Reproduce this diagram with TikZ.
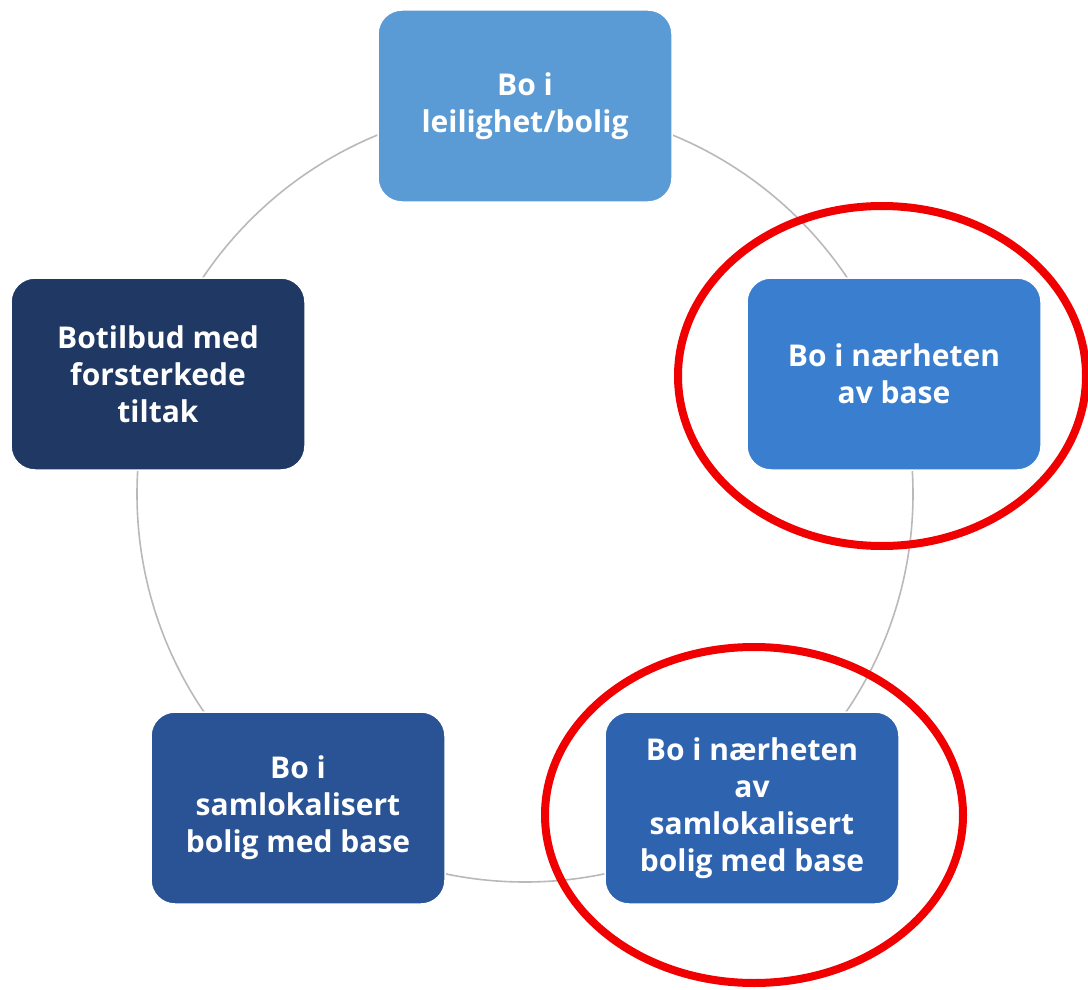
\documentclass[tikz,border=0pt]{standalone}
\usepackage{fontspec}
\setmainfont{Open Sans}
\usetikzlibrary{positioning,calc}

\definecolor{topblue}{HTML}{5B9BD5}
\definecolor{midblue}{HTML}{3A7FCF}
\definecolor{brblue}{HTML}{2E63B0}
\definecolor{blblue}{HTML}{295394}
\definecolor{navyblue}{HTML}{1F3864}
\definecolor{ringred}{HTML}{F00000}

\begin{document}
\begin{tikzpicture}[
  x=1pt, y=-1pt,
  font=\fontsize{30}{37}\selectfont\bfseries,
  box/.style={draw=white,line width=1.5pt,rounded corners=24pt,text=white,align=center,
    minimum width=294pt,minimum height=192pt,inner sep=4pt},
  ring/.style={draw=gray!55,line width=1.6pt},
  mark ring/.style={draw=ringred,line width=8pt}
]
\useasboundingbox (0,0) rectangle (1088,990);

% ---- Cycle ----
\coordinate (mid) at (525,494);
\draw[ring] (mid) circle (388);

% ---- Boxes ----
\node[box, fill=topblue] (bolig) at (525,106) {Bo i\\leilighet/bolig};
\node[box, fill=midblue] (naer) at (894,374) {Bo i nærheten\\av base};
\node[box, fill=brblue] (naersam) at (752,808) {Bo i nærheten\\av\\samlokalisert\\bolig med base};
\node[box, fill=blblue] (sam) at (298,808) {Bo i\\samlokalisert\\bolig med base};
\node[box, fill=navyblue] (forst) at (158,374) {Botilbud med\\forsterkede\\tiltak};

% ---- Highlights ----
\draw[mark ring] (naer.center) ++(-12,2) ellipse [x radius=204, y radius=170];
\draw[mark ring] (naersam.center) ++(2,7) ellipse [x radius=209, y radius=168];

\end{tikzpicture}
\end{document}
